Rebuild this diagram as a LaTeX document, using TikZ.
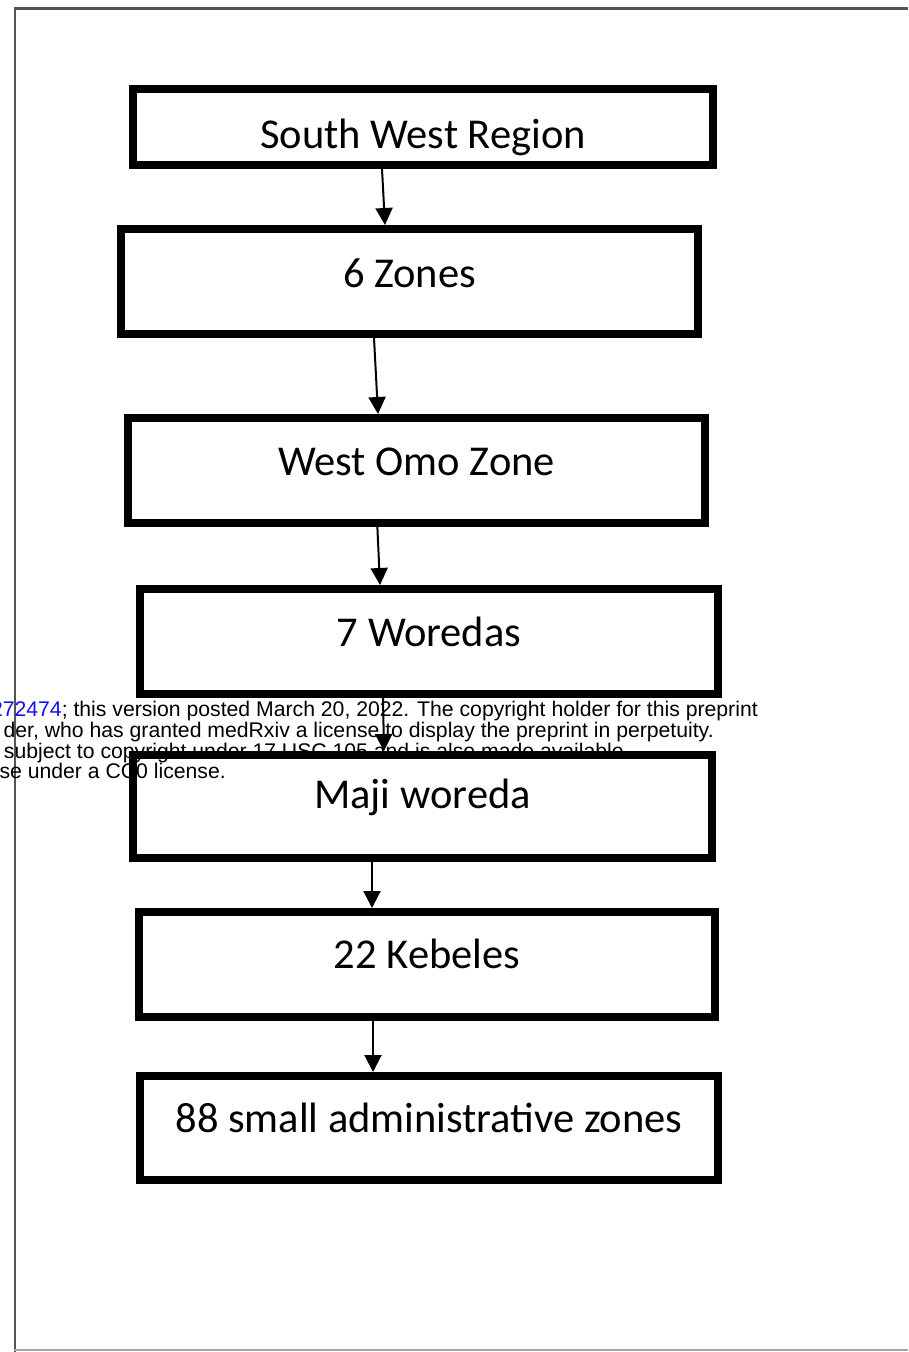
\documentclass[tikz,border=0pt]{standalone}
\usepackage{fontspec}
\setmainfont{Carlito}
\newfontfamily\wmfont{Liberation Sans}
\usetikzlibrary{arrows.meta}
\definecolor{framegray}{HTML}{555555}
\definecolor{linkblue}{HTML}{1010F0}
\tikzset{
  levelbox/.style={draw=black, line width=8pt, outer sep=4pt, inner sep=0pt,
    text depth=0pt, font=\fontsize{42.5}{50}\selectfont, align=center},
  flowarrow/.style={draw=black, line width=2pt, -{Triangle[width=17pt,length=17pt]}},
  framestroke/.style={draw=framegray, line width=2.5pt},
  wmline/.style={anchor=base east, inner sep=0pt, font=\wmfont\fontsize{21.2}{21}\selectfont}
}
\begin{document}
\begin{tikzpicture}[x=1pt, y=-1pt]
\useasboundingbox (0,0) rectangle (908,1352);
\fill[white] (0,0) rectangle (908,1352);
% outer frame
\coordinate (ftl) at (15,8.5);
\coordinate (fbl) at (15,1352);
\coordinate (ftr) at (908,8.5);
\coordinate (fbr0) at (14,1350);
\coordinate (fbr1) at (908,1350);
\draw[framestroke] (fbl) -- (ftl) -- (ftr);
\draw[draw=gray!70, line width=1.5pt] (fbr0) -- (fbr1);
% boxes
\node[levelbox, minimum width=580pt, minimum height=76pt, text height=42pt] (b1) at (423,127) {South West Region};
\node[levelbox, minimum width=577pt, minimum height=105pt, text height=11pt] (b2) at (409.5,281.5) {6 Zones};
\node[levelbox, minimum width=577pt, minimum height=105pt, text height=9pt] (b3) at (416.5,470.5) {West Omo Zone};
\node[levelbox, minimum width=578pt, minimum height=105pt, text height=10pt] (b4) at (429,641.5) {7 Woredas};
\node[levelbox, minimum width=579pt, minimum height=103pt, text height=3pt] (b5) at (422.5,806.5) {Maji woreda};
\node[levelbox, minimum width=576pt, minimum height=105pt, text height=7pt] (b6) at (427,964.5) {22 Kebeles};
\node[levelbox, minimum width=578pt, minimum height=104pt, text height=9pt] (b7) at (429,1128) {88 small administrative zones};
% arrows
\draw[flowarrow] ([xshift=-41pt]b1.south) -- ([xshift=-24.5pt]b2.north);
\draw[flowarrow] ([xshift=-35.5pt]b2.south) -- ([xshift=-38.5pt]b3.north);
\draw[flowarrow] ([xshift=-39.5pt,yshift=8pt]b3.south) -- ([xshift=-49pt]b4.north);
\draw[flowarrow] ([xshift=-46pt]b4.south) -- ([xshift=-38.5pt]b5.north);
\draw[flowarrow] ([xshift=-50.5pt]b5.south) -- ([xshift=-55pt]b6.north);
\draw[flowarrow] ([xshift=-54pt]b6.south) -- ([xshift=-56pt]b7.north);
% preprint notice
\node[wmline] (w1) at (758,716.7) {\textcolor{linkblue}{272474}; this version posted March 20, 2022. The copyright holder for this preprint};
\node[wmline] (w2) at (714,737) {der, who has granted medRxiv a license to display the preprint in perpetuity.};
\node[wmline] (w3) at (624,758) {subject to copyright under 17 USC 105 and is also made available};
\node[wmline] (w4) at (226,778.5) {se under a CC0 license.};
\end{tikzpicture}
\end{document}
